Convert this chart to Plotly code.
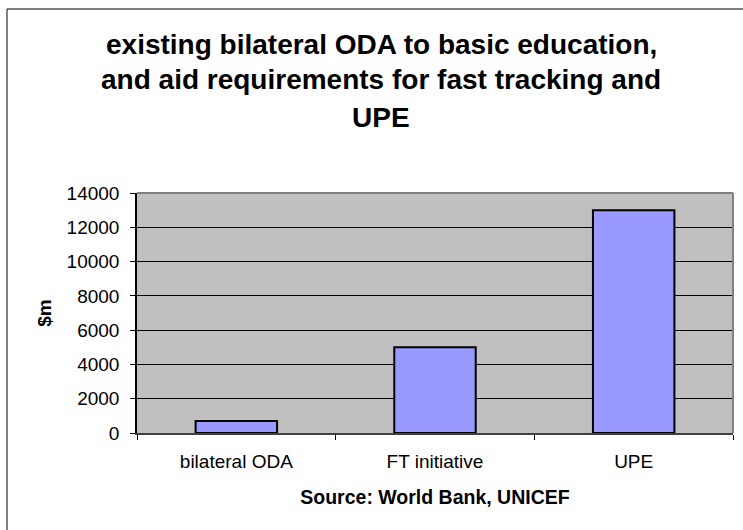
import plotly.graph_objects as go

categories = ["bilateral ODA", "FT initiative", "UPE"]
values = [700, 5000, 13000]
y_ticks = [0, 2000, 4000, 6000, 8000, 10000, 12000, 14000]

title_lines = ["existing bilateral ODA to basic education,",
               "and aid requirements for fast tracking and",
               "UPE"]

FONT = "Liberation Sans, Arial, sans-serif"
L, R, T, B = 137, 10, 193, 97
W, H = 743, 530
PW, PH = W - L - R, H - T - B

def px_x(x):
    return (x - L) / PW

def px_y(y):
    return (H - B - y) / PH

fig = go.Figure(go.Bar(
    x=categories, y=values,
    marker=dict(color="#9999FF", line=dict(color="black", width=2)),
    width=0.41,
))

annotations = []
for line, yc in zip(title_lines, [44, 80, 117]):
    annotations.append(dict(
        text=f"<b>{line}</b>", x=px_x(381), y=px_y(yc), xref="paper", yref="paper",
        xanchor="center", yanchor="middle", showarrow=False,
        font=dict(family=FONT, size=28, color="black")))

fig.update_layout(
    width=W, height=H,
    margin=dict(l=L, r=R, t=T, b=B, pad=0),
    paper_bgcolor="white", plot_bgcolor="#C0C0C0",
    showlegend=False,
    font=dict(family=FONT, color="black"),
    annotations=annotations,
    shapes=[
        dict(type="rect", xref="paper", yref="paper",
             x0=px_x(7), x1=px_x(760), y0=px_y(550), y1=px_y(9),
             line=dict(color="black", width=1), fillcolor="rgba(0,0,0,0)", layer="below"),
        dict(type="line", xref="paper", yref="paper", x0=0, x1=1, y0=1, y1=1,
             line=dict(color="#808080", width=2)),
        dict(type="line", xref="paper", yref="paper", x0=1, x1=1, y0=0, y1=1,
             line=dict(color="#808080", width=2)),
    ],
    xaxis=dict(
        type="category", tickson="boundaries", ticks="outside", ticklen=5,
        tickcolor="black", tickwidth=1,
        showline=True, linecolor="#404040", linewidth=1.5,
        showgrid=False, zeroline=False,
        ticklabelstandoff=10,
        tickfont=dict(family=FONT, size=19, color="black"),
        title=dict(text="<b>Source: World Bank, UNICEF</b>",
                   font=dict(family=FONT, size=19.5, color="black"), standoff=20),
    ),
    yaxis=dict(
        range=[0, 14000], tickvals=y_ticks, ticktext=[str(v) for v in y_ticks],
        ticks="outside", ticklen=5, tickcolor="black", tickwidth=1,
        showline=True, linecolor="black", linewidth=1.5,
        showgrid=True, gridcolor="black", gridwidth=1,
        zeroline=False,
        ticklabelstandoff=7,
        tickfont=dict(family=FONT, size=19, color="black"),
        title=dict(text="<b>$m</b>", font=dict(family=FONT, size=19, color="black"), standoff=10),
    ),
)

fig.write_html("out.html", config={"displayModeBar": False},
               post_script="document.body.style.margin='0px';")
